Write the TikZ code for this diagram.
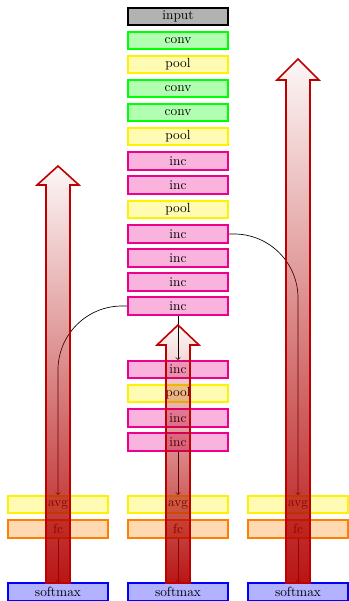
\documentclass[tikz,border=0pt]{standalone}
\usetikzlibrary{fadings}
\tikzfading[name=arrowfade, top color=transparent!97, bottom color=transparent!8]
\begin{document}
\begin{tikzpicture}[x=0.75pt,y=-0.75pt,
 layer/.style={draw, line width=1.3pt, minimum width=75pt, minimum height=13pt, inner sep=0pt, text=black},
 inputL/.style={layer, draw=black, fill=black!30},
 convL/.style={layer, draw=green, fill=green!30},
 poolL/.style={layer, draw=yellow, fill=yellow!30},
 incL/.style={layer, draw=magenta, fill=magenta!30},
 fcL/.style={layer, draw=orange, fill=orange!30},
 smL/.style={layer, draw=blue, fill=blue!30},
 conn/.style={->, black, line width=0.5pt},
 arrowfill/.style={fill=red!70!black, path fading=arrowfade, fit fading=true},
 arrowline/.style={draw=red!75!black, line width=1.2pt, line join=miter}
]
\useasboundingbox (0,0) rectangle (349,601);
% main column
\node[inputL] (in) at (178,16.5) {input};
\node[convL] (c1) at (178,40.5) {conv};
\node[poolL] (p1) at (178,64.5) {pool};
\node[convL] (c2) at (178,88.5) {conv};
\node[convL] (c3) at (178,112.5) {conv};
\node[poolL] (p2) at (178,136.5) {pool};
\node[incL] (i3a) at (178,161) {inc};
\node[incL] (i3b) at (178,185) {inc};
\node[poolL] (p3) at (178,209.5) {pool};
\node[incL] (i4a) at (178,234) {inc};
\node[incL] (i4b) at (178,258) {inc};
\node[incL] (i4c) at (178,282) {inc};
\node[incL] (i4d) at (178,306) {inc};
\node[incL] (i4e) at (178,369.5) {inc};
\node[poolL] (p4) at (178,393.5) {pool};
\node[incL] (i5a) at (178,418) {inc};
\node[incL] (i5b) at (178,442) {inc};
% heads
\node[poolL] (avgL) at (58,504.5) {avg};
\node[fcL] (fcLn) at (58,529) {fc};
\node[smL] (smLn) at (58,592) {softmax};
\node[poolL] (avgC) at (178,504.5) {avg};
\node[fcL] (fcC) at (178,529) {fc};
\node[smL] (smC) at (178,592) {softmax};
\node[poolL] (avgR) at (298,504.5) {avg};
\node[fcL] (fcR) at (298,529) {fc};
\node[smL] (smR) at (298,592) {softmax};
% connectors
\draw[conn] (i4d) -- (i4e);
\draw[conn] (i5b) -- (avgC);
\draw[conn, rounded corners=48pt] (i4a.east) -| (avgR.north);
\draw[conn, rounded corners=48pt] (i4d.west) -| (avgL.north);
\draw[conn] (fcLn) -- (smLn);
\draw[conn] (fcC) -- (smC);
\draw[conn] (fcR) -- (smR);
% big arrows
\fill[arrowfill] (46,583) -- (46,185) -- (37,185) -- (58,166) -- (79,185) -- (70,185) -- (70,583) -- cycle;
\draw[arrowline] (46,583) -- (46,185) -- (37,185) -- (58,166) -- (79,185) -- (70,185) -- (70,583) -- cycle;
\fill[arrowfill] (166,583) -- (166,345) -- (157,345) -- (178,325) -- (199,345) -- (190,345) -- (190,583) -- cycle;
\draw[arrowline] (166,583) -- (166,345) -- (157,345) -- (178,325) -- (199,345) -- (190,345) -- (190,583) -- cycle;
\fill[arrowfill] (286,583) -- (286,80) -- (277,80) -- (298,59) -- (319,80) -- (310,80) -- (310,583) -- cycle;
\draw[arrowline] (286,583) -- (286,80) -- (277,80) -- (298,59) -- (319,80) -- (310,80) -- (310,583) -- cycle;
\end{tikzpicture}
\end{document}
